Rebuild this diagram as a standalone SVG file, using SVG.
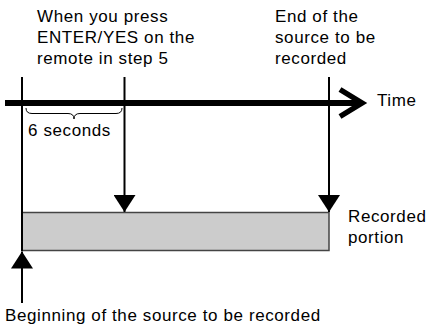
<svg xmlns="http://www.w3.org/2000/svg" width="428" height="326" viewBox="0 0 428 326">
<style>
text{font-family:"Liberation Sans",Arial,sans-serif;font-size:17px;letter-spacing:0.6px;fill:#000}
.ln{stroke:#000;stroke-width:2;fill:none}
</style>
<defs>
<marker id="ah" viewBox="0 0 17 22" refX="17" refY="11" markerWidth="17" markerHeight="22" markerUnits="userSpaceOnUse" orient="auto">
<path d="M0,0 L17,11 L0,22 Z" fill="#000"/>
</marker>
</defs>
<rect width="428" height="326" fill="#fff"/>
<g id="recorded-portion">
<rect x="22" y="212.5" width="307" height="38" fill="#cccccc" stroke="#444" stroke-width="1.5"/>
<text x="348" y="222">Recorded</text>
<text x="348" y="243">portion</text>
</g>
<g id="time-axis">
<line x1="5" y1="103" x2="360" y2="103" stroke="#000" stroke-width="6"/>
<polyline points="340,89.5 362,103 340,116.5" fill="none" stroke="#000" stroke-width="5.5"/>
<text x="377" y="106">Time</text>
</g>
<g id="label-enter">
<text x="37" y="22">When you press</text>
<text x="37" y="43">ENTER/YES on the</text>
<text x="37" y="64">remote in step 5</text>
</g>
<g id="label-end">
<text x="275" y="22">End of the</text>
<text x="275" y="43">source to be</text>
<text x="275" y="64">recorded</text>
</g>
<g id="label-six">
<path d="M26,108 Q26,113.5 32,113.5 L68,113.5 Q74,113.5 74,119 Q74,113.5 80,113.5 L116,113.5 Q122,113.5 122,108" fill="none" stroke="#000" stroke-width="1"/>
<text x="28" y="136">6 seconds</text>
</g>
<g id="label-begin">
<text x="5" y="320.5">Beginning of the source to be recorded</text>
</g>
<g id="connectors">
<line class="ln" x1="22" y1="77" x2="22" y2="251"/>
<line class="ln" x1="124.5" y1="77" x2="124.5" y2="212" marker-end="url(#ah)"/>
<line class="ln" x1="329" y1="77" x2="329" y2="212" marker-end="url(#ah)"/>
<line class="ln" x1="22" y1="303" x2="22" y2="251.5" marker-end="url(#ah)"/>
</g>
</svg>
